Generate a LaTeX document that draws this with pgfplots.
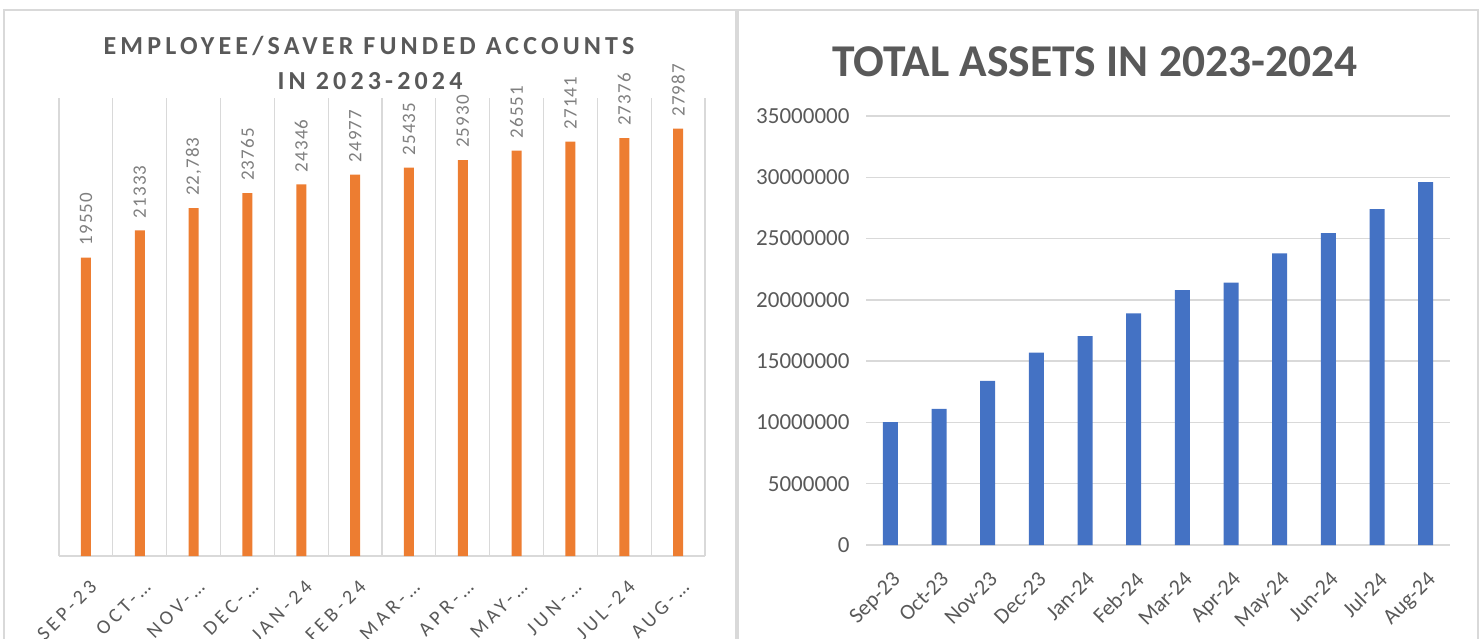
\documentclass[border=0pt]{standalone}
\usepackage{pgfplots}
\pgfplotsset{compat=1.18}
\usepackage{pgfplotstable}
\usepackage{fontspec}
\setmainfont{Carlito}
\definecolor{orangebar}{HTML}{ED7D31}
\definecolor{bluebar}{HTML}{4472C4}
\definecolor{txtgray}{HTML}{595959}
\definecolor{lblgray}{HTML}{7F7F7F}
\definecolor{gridgray}{HTML}{D9D9D9}

\pgfplotstableread{
x y label
0 19550 19550
1 21333 21333
2 22783 22,783
3 23765 23765
4 24346 24346
5 24977 24977
6 25435 25435
7 25930 25930
8 26551 26551
9 27141 27141
10 27376 27376
11 27987 27987
}\accounts

\pgfplotstableread{
x y
0 10030000
1 11100000
2 13400000
3 15700000
4 17050000
5 18900000
6 20800000
7 21400000
8 23800000
9 25450000
10 27400000
11 29600000
}\assets

\begin{document}
\begin{tikzpicture}[x=1pt,y=1pt]
\begin{scope}
\clip (0,0) rectangle (1484,638);
\draw[gridgray, line width=1.5pt] (4,-10) rectangle (736,628);
\draw[gridgray, line width=1.5pt] (738,-10) rectangle (1478,628);
\end{scope}

\node[txtgray, font=\fontsize{26}{26}\selectfont\bfseries\addfontfeatures{LetterSpace=16}] at (369,592) {EMPLOYEE/SAVER FUNDED ACCOUNTS};
\node[txtgray, font=\fontsize{26}{26}\selectfont\bfseries\addfontfeatures{LetterSpace=16}] at (370,557) {IN 2023-2024};
\node[txtgray, font=\fontsize{45.5}{45.5}\selectfont\bfseries] at (1095,576) {TOTAL ASSETS IN 2023-2024};

\begin{axis}[
  at={(59pt,82pt)}, anchor=south west,
  scale only axis, width=646pt, height=458pt,
  xmin=-0.5, xmax=11.5, ymin=0, ymax=30000,
  axis x line*=bottom, axis y line=none,
  x axis line style={gridgray, line width=1.2pt, -},
  xtick={0,...,11},
  xticklabels={SEP-23,OCT-…,NOV-…,DEC-…,JAN-24,FEB-24,MAR-…,APR-…,MAY-…,JUN-…,JUL-24,AUG-…},
  xticklabel style={rotate=45, anchor=north east, txtgray, font=\fontsize{20}{20}\selectfont\addfontfeatures{LetterSpace=20}, xshift=-11pt, yshift=-15pt},
  minor xtick={-0.5,0.5,...,11.5},
  xminorgrids,
  minor grid style={gridgray, line width=1.2pt},
  major tick length=0pt, minor tick length=0pt,
  ytick=\empty,
  ybar, bar width=10pt,
  nodes near coords,
  point meta=explicit symbolic,
  nodes near coords style={rotate=90, anchor=west, inner xsep=12pt, inner ysep=0pt, lblgray, font=\fontsize{19}{19}\selectfont\addfontfeatures{LetterSpace=6}},
  clip=false,
]
\addplot[fill=orangebar, draw=none] table[x=x, y=y, meta=label] {\accounts};
\end{axis}

\begin{axis}[
  at={(866pt,93pt)}, anchor=south west,
  scale only axis, width=584pt, height=429pt,
  xmin=-0.5, xmax=11.5, ymin=0, ymax=35000000,
  axis x line*=bottom, axis y line*=left,
  y axis line style={draw=none},
  x axis line style={gridgray, line width=1.5pt, -},
  xtick={0,...,11},
  xticklabels={Sep-23,Oct-23,Nov-23,Dec-23,Jan-24,Feb-24,Mar-24,Apr-24,May-24,Jun-24,Jul-24,Aug-24},
  xticklabel style={rotate=45, anchor=north east, txtgray, font=\fontsize{22}{22}\selectfont, xshift=-14pt, yshift=-15pt},
  ytick={0,5000000,10000000,15000000,20000000,25000000,30000000,35000000},
  scaled y ticks=false,
  yticklabel style={txtgray, font=\fontsize{23}{23}\selectfont, /pgf/number format/fixed, /pgf/number format/1000 sep={}, /pgf/number format/assume math mode=true, xshift=-13pt},
  ymajorgrids,
  major grid style={gridgray, line width=1.5pt},
  major tick length=0pt,
  ybar, bar width=15pt,
  clip=false,
]
\addplot[fill=bluebar, draw=none] table[x=x, y=y] {\assets};
\end{axis}
\pgfresetboundingbox
\useasboundingbox (0,0) rectangle (1484,638);
\end{tikzpicture}
\end{document}
